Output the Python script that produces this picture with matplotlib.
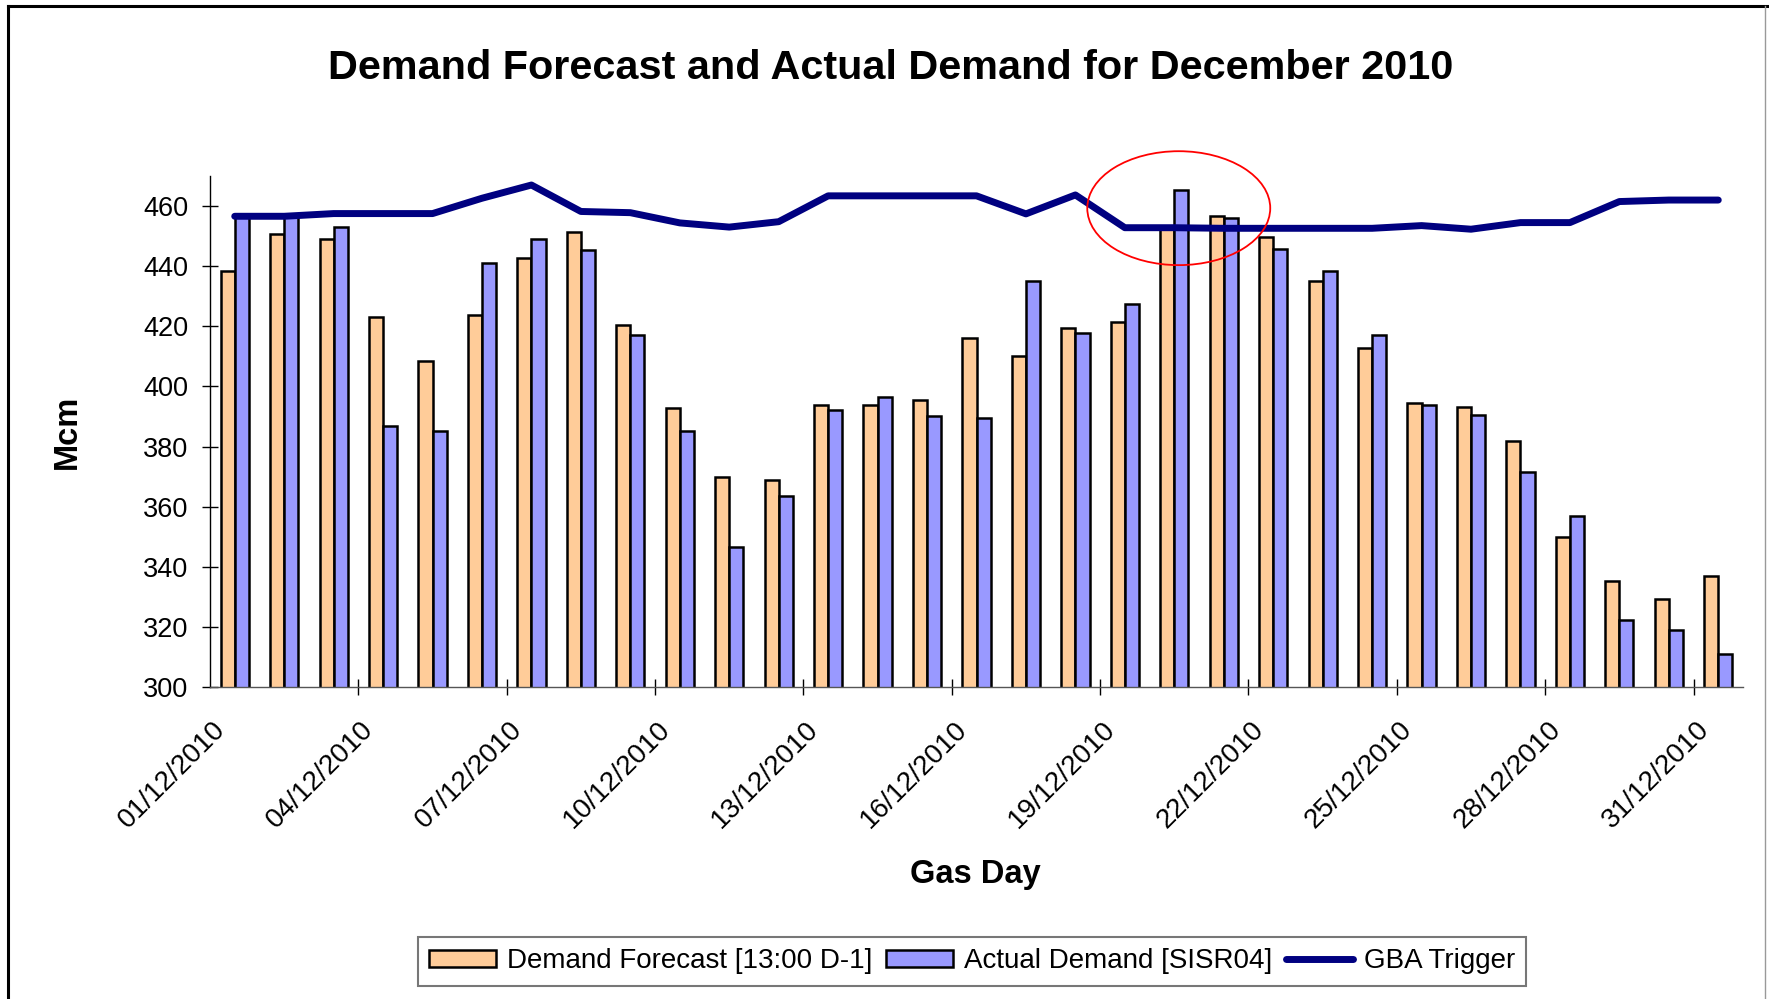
import numpy as np
import matplotlib
matplotlib.use("Agg")
import matplotlib.pyplot as plt
from matplotlib.patches import Ellipse
from matplotlib.lines import Line2D

plt.rcParams["font.family"] = ["Liberation Sans", "DejaVu Sans"]

#%% data
days = np.arange(1, 32)
day_labels = ["%02d/12/2010" % d for d in days]

forecast = [438.5, 450.6, 448.9, 423.1, 408.4, 423.9, 442.8, 451.5, 420.4, 392.9,
            369.8, 368.9, 393.7, 393.7, 395.6, 416.1, 410.1, 419.5, 421.5, 453.0,
            456.7, 449.8, 435.1, 412.7, 394.6, 393.0, 381.8, 349.9, 335.3, 329.2,
            336.9]
actual = [456.5, 456.5, 453.1, 386.8, 385.1, 441.1, 448.9, 445.4, 417.0, 385.1,
          346.5, 363.7, 392.1, 396.4, 390.3, 389.6, 435.1, 417.8, 427.3, 465.3,
          455.9, 445.7, 438.5, 417.0, 393.8, 390.4, 371.4, 356.9, 322.4, 318.9,
          310.9]
gba_trigger = [456.6, 456.6, 457.5, 457.5, 457.5, 462.6, 467.0, 458.2, 457.8, 454.4,
               453.0, 454.8, 463.4, 463.4, 463.4, 463.4, 457.4, 463.7, 452.8, 452.8,
               452.6, 452.6, 452.6, 452.6, 453.5, 452.3, 454.5, 454.5, 461.5, 462.0,
               462.0]

yticks = [300, 320, 340, 360, 380, 400, 420, 440, 460]

#%% plot
W, H = 1769, 999
fig = plt.figure(figsize=(W / 100, H / 100), dpi=100)
ax = fig.add_axes([210 / W, 1 - 687 / H, (1743 - 210) / W, (687 - 176) / H])

x = np.arange(len(days))
bw = 0.2857
b1 = ax.bar(x - bw / 2, forecast, bw, color="#FFCC99", edgecolor="black",
            linewidth=1.8, zorder=2, label="Demand Forecast [13:00 D-1]")
b2 = ax.bar(x + bw / 2, actual, bw, color="#9999FF", edgecolor="black",
            linewidth=1.8, zorder=2, label="Actual Demand [SISR04]")
l1, = ax.plot(x, gba_trigger, color="#000080", linewidth=5, solid_capstyle="round",
              solid_joinstyle="round", zorder=3, label="GBA Trigger")

# highlight circle
ax.add_patch(Ellipse((19.09, 459.3), 3.7, 37.9, fill=False, edgecolor="red",
                     linewidth=1.3, zorder=4, clip_on=False))

ax.set_xlim(-0.5, len(days) - 0.5)
ax.set_ylim(300, 470)
ax.set_yticks(yticks)
# labels sit a little left of the category centre, like the original
ax.set_xticks(x[::3] - 0.27)
ax.set_xticklabels(day_labels[::3], rotation=45, ha="right", va="center",
                   rotation_mode="anchor")
ax.set_xticks(np.arange(2.5, len(days) - 1, 3), minor=True)

ax.tick_params(axis="x", which="major", length=0, pad=28, labelsize=20)
ax.tick_params(axis="x", which="minor", direction="inout", length=11.5, width=1)
ax.tick_params(axis="y", direction="inout", length=11.5, width=1, pad=10, labelsize=19.5)

for s in ["top", "right"]:
    ax.spines[s].set_visible(False)
ax.spines["left"].set_linewidth(1)
ax.spines["bottom"].set_linewidth(1)
ax.spines["bottom"].set_color("#555555")

fig.text(891 / W, 1 - 79 / H, "Demand Forecast and Actual Demand for December 2010",
         ha="center", va="baseline", fontsize=29.8, fontweight="bold")
fig.text(67 / W, 1 - 432 / H, "Mcm", rotation=90, ha="center", va="center",
         fontsize=23.5, fontweight="bold")
fig.text(975 / W, 1 - 883 / H, "Gas Day", ha="center", va="baseline",
         fontsize=23.5, fontweight="bold")

leg = fig.legend([b1, b2, l1],
                 ["Demand Forecast [13:00 D-1]", "Actual Demand [SISR04]", "GBA Trigger"],
                 loc="center", bbox_to_anchor=(972 / W, 1 - 961.5 / H), ncol=3,
                 fontsize=20, frameon=True, fancybox=False, framealpha=1,
                 edgecolor="#777777", handlelength=2.4, handleheight=0.55,
                 handletextpad=0.4, columnspacing=0.5, borderpad=0.4)
leg.get_frame().set_linewidth(1.5)

# chart-area border
fig.add_artist(Line2D([8 / W, 8 / W], [0, 1 - 6 / H], transform=fig.transFigure,
                      color="black", linewidth=2.2))
fig.add_artist(Line2D([8 / W, 1], [1 - 6 / H, 1 - 6 / H], transform=fig.transFigure,
                      color="black", linewidth=2.2))
fig.add_artist(Line2D([1765 / W, 1765 / W], [0, 1 - 6 / H], transform=fig.transFigure,
                      color="#999999", linewidth=1))

fig.savefig("out.png", dpi=100)
